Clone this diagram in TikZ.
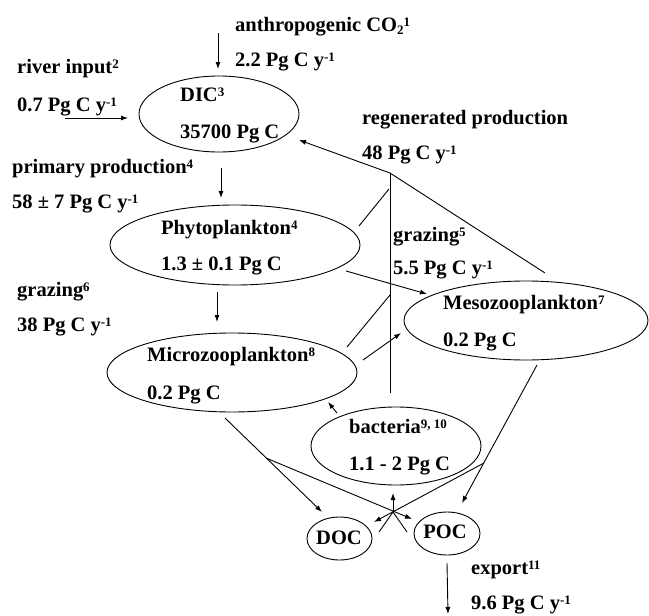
\documentclass[tikz,border=0pt]{standalone}
\usepackage{fontspec}
\setmainfont{Liberation Serif}
\usetikzlibrary{shapes.geometric,arrows.meta}
\newcommand\lbfont{\fontsize{20.5}{24}\selectfont\bfseries}
\newcommand\sups[1]{\raisebox{5pt}{\fontsize{13}{13}\selectfont #1}}
\newcommand\subs[1]{\raisebox{-3pt}{\fontsize{13}{13}\selectfont #1}}
\tikzset{
  lbl/.style={anchor=base west, inner sep=0pt, font=\lbfont},
  ctr/.style={anchor=center, inner sep=0pt, font=\lbfont},
  blob/.style={draw, ellipse, line width=0.9pt, inner sep=0pt},
  flow/.style={line width=0.9pt, -{Latex[length=7pt,width=5pt]}},
  link/.style={line width=0.9pt},
}
\begin{document}
\begin{tikzpicture}[x=1pt,y=-1pt]
\useasboundingbox (0,0) rectangle (649,616);
% ellipses
\node[blob, minimum width=160pt, minimum height=76pt] (dic) at (219,114) {};
\node[blob, minimum width=250pt, minimum height=80pt] (phyto) at (235,245) {};
\node[blob, minimum width=250pt, minimum height=79pt] (micro) at (232,372.5) {};
\node[blob, minimum width=244pt, minimum height=79pt] (meso) at (526,320.5) {};
\node[blob, minimum width=170pt, minimum height=78pt] (bact) at (396,446) {};
\node[blob, minimum width=65pt, minimum height=43pt] (doc) at (339.5,538.5) {};
\node[blob, minimum width=66pt, minimum height=43pt] (poc) at (447,533.5) {};
% texts
\node[lbl] (t1) at (235,31) {anthropogenic CO\subs{2}\sups{1}};
\node[lbl] (t2) at (235,66) {2.2 Pg C y\sups{-1}};
\node[lbl] (t3) at (17,73) {river input\sups{2}};
\node[lbl] (t4) at (17,111) {0.7 Pg C y\sups{-1}};
\node[lbl] (t5) at (180,101) {DIC\sups{3}};
\node[lbl] (t6) at (180,138) {35700 Pg C};
\node[lbl] (t7) at (362,124) {regenerated production};
\node[lbl] (t8) at (362,159) {48 Pg C y\sups{-1}};
\node[lbl] (t9) at (12,173) {primary production\sups{4}};
\node[lbl] (t10) at (12,208) {58 ± 7 Pg C y\sups{-1}};
\node[lbl] (t11) at (161,234) {Phytoplankton\sups{4}};
\node[lbl] (t12) at (161,270) {1.3 ± 0.1 Pg C};
\node[lbl] (t13) at (393,241) {grazing\sups{5}};
\node[lbl] (t14) at (393,274) {5.5 Pg C y\sups{-1}};
\node[lbl] (t15) at (17,296) {grazing\sups{6}};
\node[lbl] (t16) at (17,331) {38 Pg C y\sups{-1}};
\node[lbl] (t17) at (443,309) {Mesozooplankton\sups{7}};
\node[lbl] (t18) at (443,346) {0.2 Pg C};
\node[lbl] (t19) at (147,361) {Microzooplankton\sups{8}};
\node[lbl] (t20) at (147,399) {0.2 Pg C};
\node[lbl] (t21) at (349,433) {bacteria\sups{9, 10}};
\node[lbl] (t22) at (349,470) {1.1 - 2 Pg C};
\node[ctr] (t23) at (339,538) {DOC};
\node[ctr] (t24) at (445,532) {POC};
\node[lbl] (t25) at (471,574) {export\sups{11}};
\node[lbl] (t26) at (471,609) {9.6 Pg C y\sups{-1}};
% connector end points
\coordinate (a1) at (218,33);  \coordinate (a2) at (218,69);
\coordinate (r1) at (65,118);  \coordinate (r2) at (128,118);
\coordinate (p1) at (221,168); \coordinate (p2) at (221,198);
\coordinate (j) at (390,173);  \coordinate (g1) at (299,140);
\coordinate (vb) at (390,393); \coordinate (dg) at (545,273);
\coordinate (f1) at (359,226); \coordinate (f2) at (389,189);
\coordinate (m1) at (347,347); \coordinate (m2) at (390,295);
\coordinate (pm1) at (346,271); \coordinate (pm2) at (427,294);
\coordinate (mm1) at (363,360); \coordinate (mm2) at (401,333);
\coordinate (pz1) at (217,292); \coordinate (pz2) at (217,322);
\coordinate (bm1) at (337,413); \coordinate (bm2) at (328,402);
\coordinate (md1) at (225,418); \coordinate (md2) at (322,512);
\coordinate (mb) at (266,458);  \coordinate (mp2) at (412,519);
\coordinate (ep1) at (537,365); \coordinate (ep2) at (462,503);
\coordinate (eb) at (484,463);  \coordinate (ed2) at (374,522);
\coordinate (y0) at (393,512);  \coordinate (yl) at (379,532);
\coordinate (yr) at (407,532);  \coordinate (yt) at (393,493);
\coordinate (x1) at (447,563);  \coordinate (x2) at (448,614);
% connectors
\draw[flow] (a1) -- (a2);
\draw[flow] (r1) -- (r2);
\draw[flow] (p1) -- (p2);
\draw[flow] (j) -- (g1);
\draw[link] (j) -- (vb);
\draw[link] (j) -- (dg);
\draw[link] (f1) -- (f2);
\draw[link] (m1) -- (m2);
\draw[flow] (pm1) -- (pm2);
\draw[flow] (mm1) -- (mm2);
\draw[flow] (pz1) -- (pz2);
\draw[flow] (bm1) -- (bm2);
\draw[flow] (md1) -- (md2);
\draw[flow] (mb) -- (mp2);
\draw[flow] (ep1) -- (ep2);
\draw[flow] (eb) -- (ed2);
\draw[link] (yl) -- (y0) -- (yr);
\draw[flow] (y0) -- (yt);
\draw[flow] (x1) -- (x2);
\end{tikzpicture}
\end{document}
